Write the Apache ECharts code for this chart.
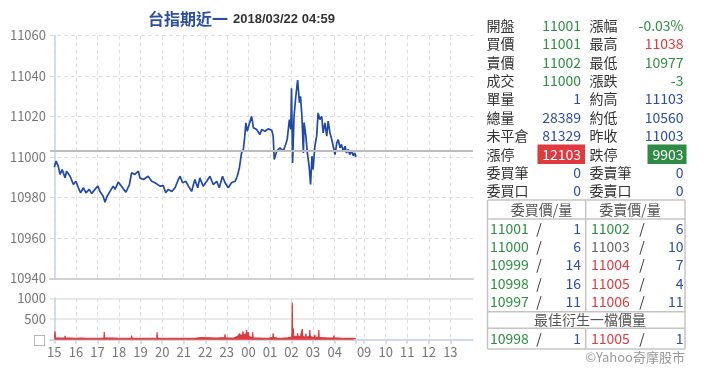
<!DOCTYPE html>
<html>
<head>
<meta charset="utf-8">
<script src="https://cdn.jsdelivr.net/npm/echarts@6/dist/echarts.min.js"></script>
<style>
html,body{margin:0;padding:0;background:#fff;}
#chart{width:720px;height:379px;}
</style>
</head>
<body>
<div id="chart"></div>
<script>
// ---------- DATA ----------
// minutes since 15:00 (night session); day session starts after a gap
const priceMinutes = [0,5,11,16,22,30,34,44,53,60,67,73,81,88,97,104,113,121,127,136,141,147,155,164,169,178,187,199,209,215,224,234,238,248,261,271,280,294,303,310,317,327,336,345,350,357,366,373,382,391,399,405,414,424,433,442,452,459,468,475,484,493,503,509,515,521,526,530,533,537,542,549,554,563,572,577,586,595,605,609,612,619,628,637,642,648,654,658,660,663,667,672,677,682,685,689,693,695,700,704,709,713,717,720,725,730,734,739,744,748,753,758,762,767,772,776,781,786,790,795,799,804,809,813,818,822,827,832,836,839];
const priceValues = [10995,10998,10995.5,10991.4,10993.8,10989.7,10993,10990.5,10986.4,10988,10984.8,10982.3,10984.8,10982.3,10984,10982,10984,10985.6,10983,10980.6,10977.7,10980.6,10983,10985.6,10984,10987.6,10985.6,10982.6,10986.4,10992.2,10991.4,10993,10989.7,10988.9,10990.5,10988,10987.3,10985.6,10985.9,10982.3,10984,10983,10984.8,10988.9,10990.5,10987.3,10988,10985.6,10983,10988.9,10984.8,10989.7,10985.6,10988,10990.5,10986.4,10988,10984.8,10990.5,10987.3,10984.8,10987.3,10988,10990.5,10994.7,11002,11003.7,11010.3,11016.9,11012.7,11016,11020.1,11014.4,11013.6,11011.1,11013.6,11012.7,11013.9,11013.2,11010.3,10998.8,11002.9,11004.5,11002.9,11005.3,11008.6,11018.5,11013.6,11034,10997,11020,11030,11038,11026.8,11030,11020,11002,11017,11010.3,11002,10995.5,10986.4,11000.4,10993.8,11005.3,11010.3,11021.8,11018.5,11020.1,11011.9,11016.9,11010.3,11017.7,11011.9,11008.6,11005.3,11001.2,11007,11008.6,11004.5,11006.2,11002.9,11005.3,11002,11003.7,11001.2,11002.9,11000.7,11002,11000];
const volMinutes = [0,2,3,10,20,29,30,31,45,60,75,90,105,120,138,139,140,150,162,163,164,180,200,214,215,216,230,250,270,285,286,287,300,320,340,360,380,395,396,397,410,430,450,465,474,475,476,490,500,505,510,515,516,517,520,524,525,526,530,534,535,536,539,540,541,545,551,552,553,560,572,573,574,585,595,600,608,609,610,620,630,640,650,655,661,662,663,664,665,666,670,676,677,678,685,689,690,691,695,699,700,701,705,710,711,712,718,724,725,726,730,735,736,737,745,752,753,754,765,777,778,779,790,800,815,830,839];
const volValues = [45,200,45,40,40,40,90,40,40,35,40,35,35,35,40,185,45,40,40,80,40,35,35,40,100,40,35,35,35,35,180,40,35,35,35,35,35,40,70,45,50,45,40,45,45,129,45,40,40,60,80,60,150,100,110,120,200,110,120,140,234,120,100,180,80,60,45,177,45,40,40,80,40,35,35,40,60,153,60,40,35,40,45,60,60,900,80,100,274,90,80,70,153,70,80,80,258,80,70,60,150,60,70,80,234,80,60,50,120,50,60,60,234,60,45,45,90,45,40,45,97,45,40,35,30,30,25];
const prevClose = 11003;
const xTickMinutes = [0,60,120,180,240,300,360,420,480,540,600,660,720,780,862,922,982,1042,1102];
const xTickLabels = ['15','16','17','18','19','20','21','22','23','00','01','02','03','04','09','10','11','12','13'];
const xGridMinutes = [0,60,120,180,240,300,360,420,480,540,600,660,720,780,840,862,922,982,1042,1102];

const infoLabelsL = ['開盤','買價','賣價','成交','單量','總量','未平倉','漲停','委買筆','委買口'];
const infoValuesL = ['11001','11001','11002','11000','1','28389','81329','12103','0','0'];
const infoColorsL = ['g','g','g','g','b','b','b','w','b','b'];
const infoLabelsR = ['漲幅','最高','最低','漲跌','約高','約低','昨收','跌停','委賣筆','委賣口'];
const infoValuesR = ['-0.03%','11038','10977','-3','11103','10560','11003','9903','0','0'];
const infoColorsR = ['g','r','g','g','b','b','b','w','b','b'];
const bidPrices = ['11001','11000','10999','10998','10997'];
const bidQty = ['1','6','14','16','11'];
const askPrices = ['11002','11003','11004','11005','11006'];
const askQty = ['6','10','7','4','11'];
const askColors = ['g','k','r','r','r'];
const bestBid = ['10998','1'];
const bestAsk = ['11005','1'];

// ---------- STYLE ----------
const COL = {g:'#2e8f43', r:'#e23a3f', b:'#2c4ea3', k:'#666', w:'#fff', t:'#333'};
const FONT = '"Noto Sans CJK TC","Noto Sans",sans-serif';
const XMIN = -12, XMAX = 1165;

const graphics = [];
function txt(x, y, s, color, align, size) {
  graphics.push({type:'text', x:x, y:y, silent:true,
    style:{text:s, fill:color, font:(size||14)+'px '+FONT, align:align||'left', verticalAlign:'middle'}});
}
function line(x1,y1,x2,y2){
  graphics.push({type:'line', silent:true, shape:{x1:x1,y1:y1,x2:x2,y2:y2}, style:{stroke:'#c4c4c4', lineWidth:1.5}});
}
// info rows
const rowY0 = 25.7, rowH = 18.37;
for (let i = 0; i < infoLabelsL.length; i++) {
  const y = rowY0 + i*rowH;
  txt(486.5, y, infoLabelsL[i], COL.t, 'left');
  txt(589.5, y, infoLabelsR[i], COL.t, 'left');
  if (infoColorsL[i] === 'w') {
    graphics.push({type:'rect', silent:true, shape:{x:537.5, y:y-9.8, width:47.5, height:19.5}, style:{fill:'#e0393e'}});
  }
  if (infoColorsR[i] === 'w') {
    graphics.push({type:'rect', silent:true, shape:{x:647.5, y:y-9.8, width:39, height:19.5}, style:{fill:'#2e8a45'}});
  }
  txt(581, y, infoValuesL[i], COL[infoColorsL[i]], 'right');
  txt(683.5, y, infoValuesR[i], COL[infoColorsR[i]], 'right');
}
// order book table
const tL = 487.5, tR = 685, tM = 585.7, tT = 200, tB = 349;
line(tL,tT,tR,tT); line(tL,tB,tR,tB); line(tL,tT,tL,tB); line(tR,tT,tR,tB);
line(tL,219,tR,219); line(tL,311.7,tR,311.7); line(tL,328.3,tR,328.3);
line(tM,tT,tM,311.7); line(tM,328.3,tM,tB);
txt(541.5, 210, '委買價/量', '#555', 'center');
txt(630, 210, '委賣價/量', '#555', 'center');
for (let i = 0; i < bidPrices.length; i++) {
  const y = 228.3 + i*18.35;
  txt(490, y, bidPrices[i], COL.g, 'left');
  txt(539, y, '/', COL.t, 'center');
  txt(581, y, bidQty[i], COL.b, 'right');
  txt(591, y, askPrices[i], COL[askColors[i]], 'left');
  txt(642, y, '/', COL.t, 'center');
  txt(683.5, y, askQty[i], COL.b, 'right');
}
txt(590, 320, '最佳衍生一檔價量', '#555', 'center');
txt(490, 338.5, bestBid[0], COL.g, 'left');
txt(539, 338.5, '/', COL.t, 'center');
txt(581, 338.5, bestBid[1], COL.b, 'right');
txt(591, 338.5, bestAsk[0], COL.r, 'left');
txt(642, 338.5, '/', COL.t, 'center');
txt(683.5, 338.5, bestAsk[1], COL.b, 'right');
txt(685, 357, '©Yahoo奇摩股市', '#999', 'right', 13);

function hourLabel(v) {
  const i = xTickMinutes.indexOf(Math.round(v));
  return i >= 0 ? xTickLabels[i] : '';
}

const chart = echarts.init(document.getElementById('chart'), null, {renderer:'canvas'});
chart.setOption({
  animation: false,
  backgroundColor: '#fff',
  title: {
    text: '{a|台指期近一} {b|2018/03/22 04:59}',
    left: 143, top: 5,
    textStyle: {
      rich: {
        a: {fontSize: 16, color: '#2d4f9e', fontFamily: FONT},
        b: {fontSize: 13, fontWeight: 'bold', color: '#333', fontFamily: '"Liberation Sans",Arial,sans-serif'}
      }
    }
  },
  grid: [
    {left: 50, top: 35.5, width: 423, height: 243},
    {left: 50, top: 298.3, width: 423, height: 41.4}
  ],
  xAxis: [
    {type:'value', gridIndex:0, min:XMIN, max:XMAX,
     axisLine:{show:true, onZero:false, lineStyle:{color:'#d0d0d0', width:2}},
     axisTick:{show:false, customValues: xGridMinutes},
     axisLabel:{show:false},
     splitLine:{show:true, lineStyle:{color:'#dedede', type:[4,3], width:1}}},
    {type:'value', gridIndex:1, min:XMIN, max:XMAX,
     axisLine:{show:true, onZero:false, lineStyle:{color:'#c5d3e8', width:1.5}},
     axisTick:{show:true, length:4, customValues: xGridMinutes, lineStyle:{color:'#c5d3e8', width:1.5}},
     axisLabel:{show:true, customValues: xTickMinutes, formatter: hourLabel, color:'#777', fontSize:13, margin:6, fontFamily: FONT},
     splitLine:{show:true, lineStyle:{color:'#dedede', type:[4,3], width:1}}}
  ],
  yAxis: [
    {type:'value', gridIndex:0, min:10940, max:11060, interval:20,
     axisLine:{show:true, lineStyle:{color:'#c5d3e8', width:1.5}},
     axisTick:{show:false},
     axisLabel:{color:'#777', fontSize:13, margin:4, fontFamily: FONT,
       formatter: v => String(v)},
     splitLine:{show:true, lineStyle:{color:'#dedede', type:[4,3], width:1}}},
    {type:'value', gridIndex:1, min:0, max:1000, interval:500,
     axisLine:{show:true, lineStyle:{color:'#c5d3e8', width:1.5}},
     axisTick:{show:false},
     axisLabel:{color:'#777', fontSize:13, margin:4, fontFamily: FONT,
       formatter: v => v === 0 ? '□' : String(v)},
     splitLine:{show:true, lineStyle:{color:'#e2e2e2', width:1.5}}}
  ],
  series: [
    {type:'line', xAxisIndex:0, yAxisIndex:0, showSymbol:false, symbol:'none',
     data: priceMinutes.map((m,i)=>[m, priceValues[i]]),
     lineStyle:{color:'#2149a8', width:1.7},
     markLine:{silent:true, symbol:'none', label:{show:false},
       lineStyle:{color:'#bdbdbd', width:2, type:'solid'},
       data:[{yAxis: prevClose}]},
     z: 3},
    {type:'line', xAxisIndex:1, yAxisIndex:1, showSymbol:false, symbol:'none',
     data: volMinutes.map((m,i)=>[m, volValues[i]]),
     lineStyle:{color:'#e03a3e', width:1.2},
     areaStyle:{color:'#e03a3e', opacity:1}}
  ],
  graphic: graphics
});
</script>
</body>
</html>
